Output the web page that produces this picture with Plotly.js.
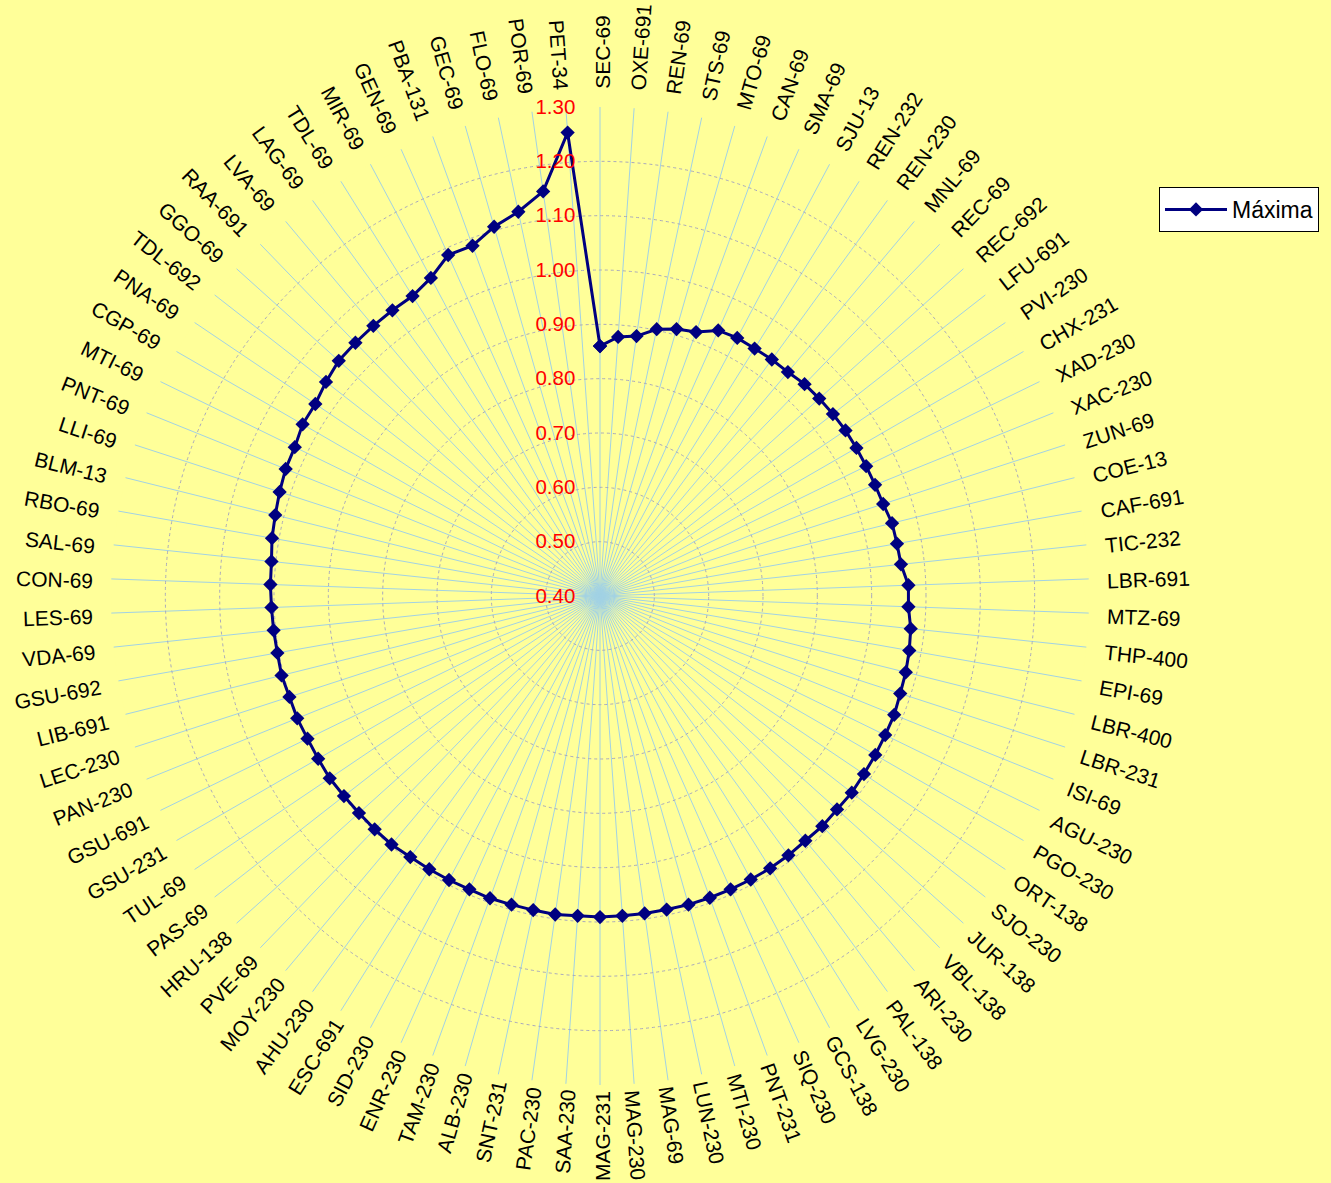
<!DOCTYPE html>
<html><head><meta charset="utf-8">
<script src="https://cdn.plot.ly/plotly-3.0.1.min.js"></script>
<style>html,body{margin:0;padding:0;background:#FFFF99;}</style>
</head><body>
<div id="chart" style="width:1331px;height:1183px;"></div>
<script>
const categories = ['SEC-69','OXE-691','REN-69','STS-69','MTO-69','CAN-69','SMA-69','SJU-13','REN-232','REN-230',
 'MNL-69','REC-69','REC-692','LFU-691','PVI-230','CHX-231','XAD-230','XAC-230','ZUN-69','COE-13',
 'CAF-691','TIC-232','LBR-691','MTZ-69','THP-400','EPI-69','LBR-400','LBR-231','ISI-69','AGU-230',
 'PGO-230','ORT-138','SJO-230','JUR-138','VBL-138','ARI-230','PAL-138','LVG-230','GCS-138','SIQ-230',
 'PNT-231','MTI-230','LUN-230','MAG-69','MAG-230','MAG-231','SAA-230','PAC-230','SNT-231','ALB-230',
 'TAM-230','ENR-230','SID-230','ESC-691','AHU-230','MOY-230','PVE-69','HRU-138','PAS-69','TUL-69',
 'GSU-231','GSU-691','PAN-230','LEC-230','LIB-691','GSU-692','VDA-69','LES-69','CON-69','SAL-69',
 'RBO-69','BLM-13','LLI-69','PNT-69','MTI-69','CGP-69','PNA-69','TDL-692','GGO-69','RAA-691',
 'LVA-69','LAG-69','TDL-69','MIR-69','GEN-69','PBA-131','GEC-69','FLO-69','POR-69','PET-34'];

const maxima = [0.860,0.878,0.883,0.902,0.911,0.917,0.935,0.938,0.937,0.938,
 0.938,0.942,0.943,0.944,0.945,0.945,0.945,0.946,0.948,0.954,
 0.955,0.957,0.968,0.968,0.975,0.978,0.980,0.981,0.984,0.984,
 0.985,0.986,0.988,0.987,0.989,0.988,0.990,0.991,0.991,0.991,
 0.991,0.991,0.990,0.990,0.990,0.991,0.990,0.992,0.991,0.991,
 0.992,0.991,0.992,0.993,0.994,0.997,0.997,0.997,0.998,1.000,
 0.999,0.999,1.001,1.001,1.004,1.003,1.004,1.005,1.007,1.008,
 1.013,1.016,1.020,1.024,1.025,1.032,1.032,1.040,1.047,1.048,
 1.049,1.050,1.051,1.063,1.087,1.086,1.107,1.123,1.152,1.255];

const radialTicks = [0.40,0.50,0.60,0.70,0.80,0.90,1.00,1.10,1.20,1.30];
const seriesName = 'Máxima';

// ---- layout geometry ----
const W = 1331, H = 1183;
const CX = 600, CY = 596, R = 489;
const FONT = '"Liberation Sans", Arial, sans-serif';
const LABEL_SIZE = 21;

const trace = {
  type: 'scatterpolar',
  mode: 'lines+markers',
  name: seriesName,
  theta: categories.concat([categories[0]]),
  r: maxima.concat([maxima[0]]),
  line: {color: '#000080', width: 3},
  marker: {symbol: 'diamond', size: 11, color: '#000080'},
  cliponaxis: false
};

// radial category labels as rotated annotations
const canvas = document.createElement('canvas');
const ctx = canvas.getContext('2d');
ctx.font = LABEL_SIZE + 'px "Liberation Sans"';
const n = categories.length;
const annotations = categories.map((c, i) => {
  const th = i * 360 / n;
  const a = th < 180 ? th - 90 : th - 270;
  const tr = th * Math.PI / 180, ar = a * Math.PI / 180;
  const down = Math.max(0, -Math.cos(tr));
  const gap = 18.5 - 12.5 * down * down;
  const w = ctx.measureText(c).width;
  const d = R + gap + w / 2;
  const px = CX + d * Math.sin(tr) - 3 * Math.sin(ar);
  const py = CY - d * Math.cos(tr) + 3 * Math.cos(ar);
  return {
    text: c, xref: 'paper', yref: 'paper',
    x: px / W, y: 1 - py / H,
    xanchor: 'center', yanchor: 'middle',
    textangle: a, showarrow: false, borderpad: 0,
    font: {family: FONT, size: LABEL_SIZE, color: '#000000'}
  };
});

const layout = {
  width: W, height: H,
  margin: {l: 0, r: 0, t: 0, b: 0},
  paper_bgcolor: '#FFFF99',
  font: {family: FONT, color: '#000000'},
  showlegend: true,
  legend: {
    x: 1159 / W, y: 1 - 187 / H, xanchor: 'left', yanchor: 'top',
    bgcolor: '#FFFFFF', bordercolor: '#000000', borderwidth: 1,
    itemwidth: 62,
    font: {family: FONT, size: 23, color: '#000000'}
  },
  polar: {
    domain: {x: [(CX - R) / W, (CX + R) / W], y: [(H - CY - R) / H, (H - CY + R) / H]},
    bgcolor: '#FFFF99',
    radialaxis: {
      range: [0.4, 1.3], angle: 90, side: 'counterclockwise',
      tickmode: 'array', tickvals: radialTicks, ticktext: radialTicks.map(v => v.toFixed(2)),
      tickangle: 90,
      tickfont: {family: FONT, size: 20.5, color: '#FF0000'},
      ticks: 'outside', ticklen: 17, tickcolor: 'rgba(0,0,0,0)',
      showline: false,
      showgrid: true, gridcolor: '#A9A9BD', gridwidth: 1, griddash: 'dot'
    },
    angularaxis: {
      type: 'category', categoryarray: categories,
      rotation: 90, direction: 'clockwise',
      showticklabels: false, ticks: '',
      showline: false,
      showgrid: true, gridcolor: '#A2D2E4', gridwidth: 0.8
    }
  },
  annotations: annotations
};

Plotly.newPlot('chart', [trace], layout, {displayModeBar: false, responsive: false});
</script>
</body></html>
